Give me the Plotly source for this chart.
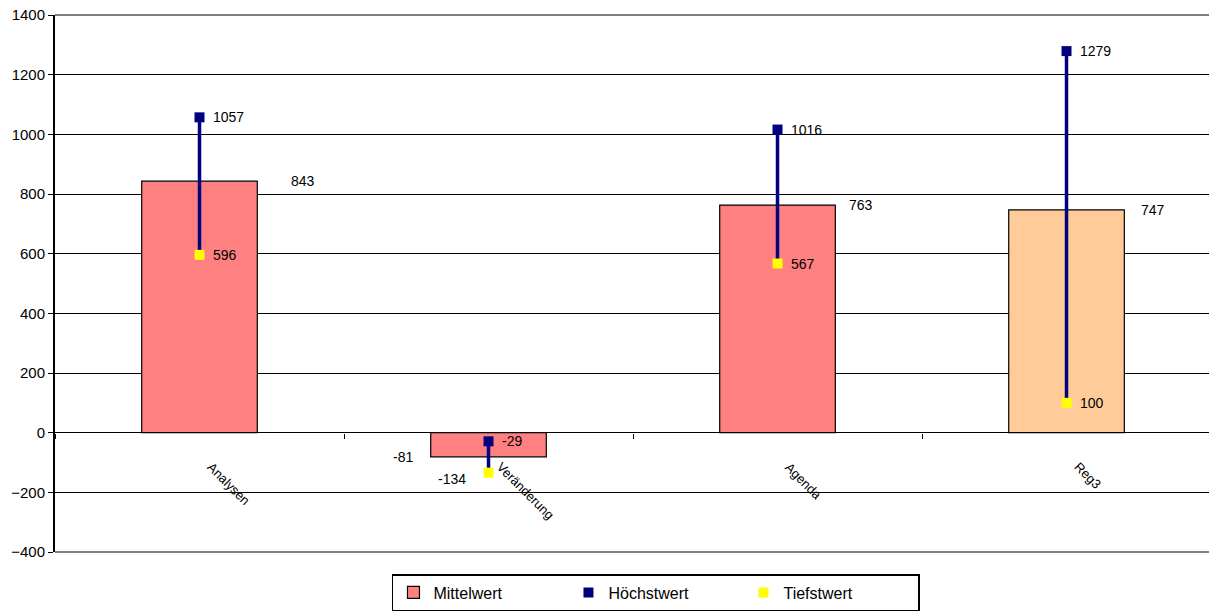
import plotly.graph_objects as go

# Kategorien und Kennzahlen
categories = ["Analysen", "Veränderung", "Agenda", "Reg3"]
mittelwert = [843, -81, 763, 747]
hoechstwert = [1057, -29, 1016, 1279]
tiefstwert = [596, -134, 567, 100]
bar_colors = ["#FF8080", "#FF8080", "#FF8080", "#FFCC99"]

y_ticks = [-400, -200, 0, 200, 400, 600, 800, 1000, 1200, 1400]

FONT = "Liberation Sans, Arial, sans-serif"
NAVY = "#000080"
YELLOW = "#FFFF00"

fig = go.Figure()

fig.add_trace(go.Bar(
    x=categories, y=mittelwert, name="Mittelwert", width=0.4,
    marker=dict(color=bar_colors, line=dict(color="black", width=1.2)),
))

# Verbindungslinie zwischen Höchst- und Tiefstwert je Kategorie
line_x, line_y = [], []
for c, hi, lo in zip(categories, hoechstwert, tiefstwert):
    line_x += [c, c, None]
    line_y += [hi, lo, None]
fig.add_trace(go.Scatter(
    x=line_x, y=line_y, mode="lines", showlegend=False, hoverinfo="skip",
    line=dict(color=NAVY, width=3.5),
))

fig.add_trace(go.Scatter(
    x=categories, y=hoechstwert, mode="markers", name="Höchstwert",
    marker=dict(symbol="square", size=10, color=NAVY),
))
fig.add_trace(go.Scatter(
    x=categories, y=tiefstwert, mode="markers", name="Tiefstwert",
    marker=dict(symbol="square", size=10, color=YELLOW),
))

lbl_font = dict(family=FONT, size=14, color="black")
annotations = []

# Beschriftung Mittelwert (Versatz je Kategorie in Pixeln)
mw_shift = [(89, "left"), (-74, "right"), (69, "left"), (72, "left")]
for c, v, (dx, anc) in zip(categories, mittelwert, mw_shift):
    annotations.append(dict(x=c, y=v, text=str(v), showarrow=False, xanchor=anc,
                            xshift=dx, font=lbl_font))

# Beschriftung Höchstwert
for c, v in zip(categories, hoechstwert):
    annotations.append(dict(x=c, y=v, text=str(v), showarrow=False, xanchor="left",
                            xshift=11, font=lbl_font))

# Beschriftung Tiefstwert
tw_shift = [(11, "left", 0), (-21, "right", -6), (11, "left", 0), (11, "left", 0)]
for c, v, (dx, anc, dy) in zip(categories, tiefstwert, tw_shift):
    annotations.append(dict(x=c, y=v, text=str(v), showarrow=False, xanchor=anc,
                            xshift=dx, yshift=dy, font=lbl_font))

# Kategorienbeschriftung, um 45° gedreht unter der Nulllinie
for c in categories:
    annotations.append(dict(x=c, y=0, text=c, showarrow=False, textangle=45,
                            xanchor="left", yanchor="top", xshift=2, yshift=-24,
                            font=dict(family=FONT, size=13, color="black")))

fig.update_layout(
    width=1209, height=614,
    margin=dict(l=55, r=0, t=15, b=62),
    paper_bgcolor="white", plot_bgcolor="white",
    font=dict(family=FONT, size=14, color="black"),
    bargap=0.6,
    showlegend=True,
    legend=dict(
        orientation="h", x=0.292, xanchor="left", y=-0.041, yanchor="top",
        bordercolor="black", borderwidth=1.5, bgcolor="white",
        font=dict(family=FONT, size=16, color="black"),
        entrywidth=130, entrywidthmode="pixels", itemwidth=30,
        traceorder="normal",
    ),
    annotations=annotations,
    shapes=[
        dict(type="line", xref="paper", yref="paper", x0=0, x1=1, y0=1, y1=1,
             line=dict(color="#808080", width=2), layer="above"),
        dict(type="line", xref="paper", yref="paper", x0=0, x1=1, y0=0, y1=0,
             line=dict(color="#808080", width=2), layer="above"),
    ],
)

fig.update_xaxes(
    type="category", categoryorder="array", categoryarray=categories,
    range=[-0.5, 3.493],
    showgrid=False, zeroline=False, showline=False,
    showticklabels=False,
    anchor="free", position=400 / 1800,
    ticks="outside", tickson="boundaries", ticklen=5, tickcolor="black", tickwidth=1.2,
)
fig.update_yaxes(
    range=[-400, 1400], tickvals=y_ticks,
    showgrid=True, gridcolor="black", gridwidth=1.2,
    zeroline=True, zerolinecolor="black", zerolinewidth=1.2,
    showline=True, linecolor="black", linewidth=2,
    ticks="outside", ticklen=5, tickcolor="black", tickwidth=1.2,
    tickfont=dict(family=FONT, size=15, color="black"),
)

fig.write_html("out.html")
